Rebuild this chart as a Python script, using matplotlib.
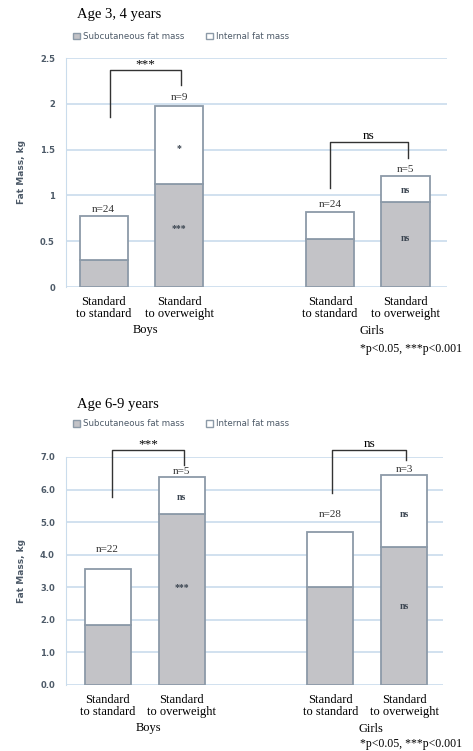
# Fat mass by growth group, two age panels (subcutaneous + internal, stacked)
import matplotlib
matplotlib.use('Agg')
import matplotlib.pyplot as plt
from matplotlib.patches import Patch

groups = ['Standard\nto standard', 'Standard\nto overweight',
          'Standard\nto standard', 'Standard\nto overweight']
sexes = ['Boys', 'Girls']
note = '*p<0.05, ***p<0.001'

# Age 3, 4 years
young_title = 'Age 3, 4 years'
young_sub = [0.30, 1.12, 0.52, 0.93]
young_total = [0.77, 1.98, 0.82, 1.21]
young_n = ['n=24', 'n=9', 'n=24', 'n=5']
young_sig_sub = ['', '***', '', 'ns']
young_sig_int = ['', '*', '', 'ns']
young_pairs = ['***', 'ns']
young_ticks = [0, 0.5, 1, 1.5, 2, 2.5]
young_ticklabels = ['0', '0.5', '1', '1.5', '2', '2.5']

# Age 6-9 years
old_title = 'Age 6-9 years'
old_sub = [1.84, 5.24, 3.00, 4.23]
old_total = [3.56, 6.38, 4.69, 6.44]
old_n = ['n=22', 'n=5', 'n=28', 'n=3']
old_sig_sub = ['', '***', '', 'ns']
old_sig_int = ['', 'ns', '', 'ns']
old_pairs = ['***', 'ns']
old_ticks = [0, 1, 2, 3, 4, 5, 6, 7]
old_ticklabels = ['0.0', '1.0', '2.0', '3.0', '4.0', '5.0', '6.0', '7.0']

pos = [0, 1, 3, 4]
SERIF = 'Liberation Serif'
GRAY = '#c3c3c7'
EDGE = '#8c9aa8'
GRID = '#cadcec'
TXT = '#4d5a68'


def panel(ax, title, sub, total, nlab, sig_sub, sig_int, pairs,
          ticks, ticklabels, xlim, width, n_pad, brackets, title_y, leg_y, note_dy):
    internal = [t - s for t, s in zip(total, sub)]
    ax.bar(pos, sub, width, color=GRAY, edgecolor=EDGE, linewidth=1.3, zorder=3)
    ax.bar(pos, internal, width, bottom=sub, color='white', edgecolor=EDGE,
           linewidth=1.3, zorder=3)
    ax.set_xlim(*xlim)
    ax.set_ylim(0, ticks[-1])
    ax.set_yticks(ticks)
    ax.set_yticklabels(ticklabels, fontsize=6, color=TXT, fontweight='bold')
    ax.tick_params(axis='y', length=0, pad=8)
    ax.set_xticks([])
    ax.grid(axis='y', color=GRID, linewidth=1.2, zorder=0)
    for s in ['top', 'right', 'bottom']:
        ax.spines[s].set_visible(False)
    ax.spines['left'].set_color(GRID)
    ax.set_ylabel('Fat Mass, kg', fontsize=6.5, color=TXT, fontweight='bold',
                  labelpad=10)

    for i, x in enumerate(pos):
        ax.text(x, total[i] + n_pad[i], nlab[i], ha='center', va='bottom',
                fontsize=8, family=SERIF, color='#333333', zorder=5)
        if sig_sub[i]:
            ax.text(x, sub[i] * 0.57, sig_sub[i], ha='center', va='center',
                    fontsize=7, family=SERIF, color='#3a4450', fontweight='bold',
                    zorder=5)
        if sig_int[i]:
            ax.text(x, sub[i] + internal[i] * 0.45, sig_int[i], ha='center',
                    va='center', fontsize=7, family=SERIF, color='#3a4450',
                    fontweight='bold', zorder=5)
        ax.annotate(groups[i], xy=(x, 0), xycoords=('data', 'axes fraction'),
                    xytext=(0, -9), textcoords='offset pixels', ha='center',
                    va='top', fontsize=9, family=SERIF, linespacing=1.0)

    for j, (x0, x1, ytop, y0, y1) in enumerate(brackets):
        ax.plot([x0, x0, x1, x1], [y0, ytop, ytop, y1], color='#333333',
                linewidth=1.0, clip_on=False, zorder=5)
        ax.text((x0 + x1) / 2, ytop, pairs[j], ha='center', va='bottom',
                fontsize=9.5, family=SERIF, clip_on=False)

    ax.annotate(sexes[0], xy=(0.55, 0), xycoords=('data', 'axes fraction'),
                xytext=(0, -37), textcoords='offset pixels', ha='center',
                va='top', fontsize=9, family=SERIF)
    ax.annotate(sexes[1], xy=(3.55, 0), xycoords=('data', 'axes fraction'),
                xytext=(0, -38), textcoords='offset pixels', ha='center',
                va='top', fontsize=9, family=SERIF)
    ax.annotate(note, xy=(3.4, 0), xycoords=('data', 'axes fraction'),
                xytext=(0, note_dy), textcoords='offset pixels', ha='left',
                va='top', fontsize=8.5, family=SERIF)

    ax.text(0.03, title_y, title, transform=ax.transAxes, ha='left',
            va='bottom', fontsize=10.5, family=SERIF)
    handles = [Patch(facecolor=GRAY, edgecolor=EDGE, label='Subcutaneous fat mass'),
               Patch(facecolor='white', edgecolor=EDGE, label='Internal fat mass')]
    ax.legend(handles=handles, loc='lower left', ncol=2, frameon=False,
              fontsize=6.2, labelcolor=TXT, handlelength=0.8, handleheight=0.8,
              handletextpad=0.3, columnspacing=2.6, borderaxespad=0,
              bbox_to_anchor=(0.01, leg_y))


fig = plt.figure(figsize=(4.73, 7.51), dpi=100)
ax1 = fig.add_axes([66 / 473, (751 - 287) / 751, 381 / 473, 229 / 751])
ax2 = fig.add_axes([66 / 473, (751 - 685) / 751, 377 / 473, 228 / 751])

panel(ax1, young_title, young_sub, young_total, young_n, young_sig_sub,
      young_sig_int, young_pairs, young_ticks, young_ticklabels,
      (-0.5, 4.55), 0.64, [0.03, 0.04, 0.03, 0.02],
      [(0.08, 1.03, 2.37, 1.86, 2.20), (3.0, 4.03, 1.58, 1.08, 1.41)],
      1.16, 1.06, -56)
panel(ax2, old_title, old_sub, old_total, old_n, old_sig_sub,
      old_sig_int, old_pairs, old_ticks, old_ticklabels,
      (-0.56, 4.52), 0.62, [0.45, 0.05, 0.40, 0.05],
      [(0.06, 1.03, 7.21, 5.77, 6.75), (3.03, 4.02, 7.21, 5.89, 6.90)],
      1.20, 1.11, -53)

fig.savefig('out.png', dpi=100)
